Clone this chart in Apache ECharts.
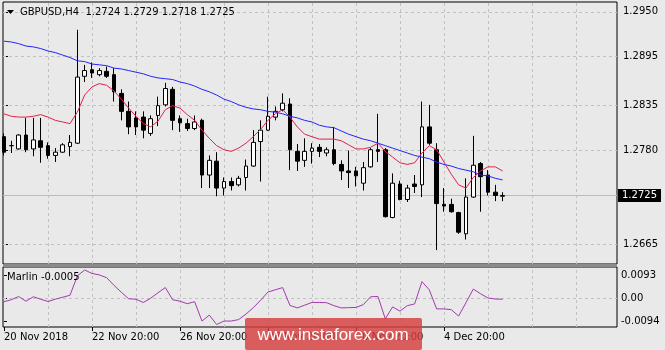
<!DOCTYPE html>
<html><head><meta charset="utf-8">
<script src="https://cdn.jsdelivr.net/npm/echarts@6/dist/echarts.min.js"></script>
<style>html,body{margin:0;padding:0;background:#e9e9e9}#c{width:665px;height:350px}</style>
</head><body><div id="c"></div>
<script>
const symbolName = 'GBPUSD,H4';
const indicatorName = 'Marlin';

const opens = [1.2797,1.2786,1.2782,1.2799,1.2782,1.2792,1.2786,1.2774,1.2778,1.2785,
1.2789,1.2871,1.2879,1.2873,1.2877,1.2873,1.2850,1.2828,1.2820,1.2821,
1.2801,1.2823,1.2836,1.2855,1.2819,1.2813,1.2807,1.2817,1.2750,1.2767,
1.2734,1.2742,1.2738,1.2747,1.2761,1.2791,1.2805,1.2821,1.2830,1.2837,
1.2779,1.2768,1.2779,1.2784,1.2777,1.2781,1.2763,1.2755,1.2755,1.2740,
1.2760,1.2781,1.2781,1.2698,1.2739,1.2720,1.2739,1.2738,1.2809,1.2781,
1.2714,1.2714,1.2704,1.2678,1.2723,1.2764,1.2750,1.2729,1.2724];
const closes = [1.2778,1.2786,1.2799,1.2781,1.2793,1.2784,1.2774,1.2778,1.2787,1.2790,
1.2870,1.2878,1.2875,1.2878,1.2871,1.2852,1.2828,1.2809,1.2809,1.2805,
1.2819,1.2835,1.2856,1.2817,1.2814,1.2807,1.2815,1.2750,1.2768,1.2734,
1.2742,1.2737,1.2746,1.2761,1.2790,1.2805,1.2822,1.2828,1.2838,1.2781,
1.2767,1.2779,1.2783,1.2779,1.2781,1.2764,1.2755,1.2753,1.2749,1.2759,
1.2781,1.2779,1.2699,1.2740,1.2720,1.2734,1.2736,1.2809,1.2789,1.2715,
1.2712,1.2705,1.2680,1.2723,1.2762,1.2748,1.2729,1.2725,1.2725];
const lows = [1.2774,1.2777,1.2781,1.2778,1.2773,1.2765,1.2770,1.2766,1.2777,1.2773,
1.2788,1.2864,1.2869,1.2871,1.2869,1.2840,1.2817,1.2800,1.2799,1.2795,
1.2798,1.2810,1.2834,1.2805,1.2803,1.2804,1.2805,1.2734,1.2734,1.2724,
1.2725,1.2731,1.2736,1.2731,1.2760,1.2742,1.2804,1.2817,1.2828,1.2756,
1.2755,1.2760,1.2764,1.2772,1.2773,1.2762,1.2744,1.2734,1.2736,1.2731,
1.2759,1.2766,1.2698,1.2697,1.2719,1.2717,1.2728,1.2723,1.2787,1.2658,
1.2705,1.2704,1.2678,1.2671,1.2722,1.2705,1.2725,1.2718,1.2718];
const highs = [1.2801,1.2792,1.2800,1.2820,1.2820,1.2820,1.2790,1.2783,1.2789,1.2799,
1.2928,1.2885,1.2888,1.2881,1.2883,1.2881,1.2855,1.2840,1.2828,1.2828,
1.2823,1.2846,1.2863,1.2858,1.2823,1.2819,1.2823,1.2819,1.2774,1.2778,
1.2747,1.2747,1.2749,1.2769,1.2805,1.2817,1.2846,1.2834,1.2850,1.2844,
1.2788,1.2795,1.2789,1.2788,1.2784,1.2809,1.2768,1.2780,1.2760,1.2766,
1.2783,1.2825,1.2783,1.2752,1.2743,1.2738,1.2750,1.2840,1.2836,1.2789,
1.2734,1.2721,1.2705,1.2746,1.2798,1.2766,1.2756,1.2738,1.2729];

const maSlow = [1.2914,1.2913,1.2911,1.2908,1.2907,1.2905,1.2902,1.2900,1.2897,1.2894,
1.2890,1.2889,1.2886,1.2885,1.2884,1.2881,1.2880,1.2878,1.2876,1.2874,
1.2871,1.2869,1.2868,1.2867,1.2864,1.2862,1.2859,1.2855,1.2852,1.2848,
1.2843,1.2840,1.2836,1.2833,1.2831,1.2830,1.2828,1.2827,1.2825,1.2822,
1.2820,1.2817,1.2815,1.2811,1.2809,1.2808,1.2804,1.2800,1.2797,1.2794,
1.2792,1.2789,1.2786,1.2783,1.2780,1.2777,1.2774,1.2772,1.2770,1.2766,
1.2763,1.2761,1.2758,1.2756,1.2754,1.2750,1.2749,1.2746,1.2744];
const maFast = [1.2825,1.2822,1.2821,1.2821,1.2822,1.2824,1.2821,1.2817,1.2815,1.2813,
1.2827,1.2848,1.2858,1.2862,1.2860,1.2853,1.2843,1.2832,1.2822,1.2813,
1.2809,1.2816,1.2830,1.2835,1.2832,1.2824,1.2817,1.2805,1.2795,1.2786,
1.2781,1.2779,1.2783,1.2789,1.2797,1.2806,1.2817,1.2825,1.2830,1.2821,
1.2809,1.2800,1.2797,1.2794,1.2794,1.2794,1.2792,1.2787,1.2782,1.2782,
1.2784,1.2789,1.2779,1.2772,1.2765,1.2763,1.2765,1.2777,1.2786,1.2781,
1.2766,1.2751,1.2738,1.2734,1.2747,1.2755,1.2760,1.2760,1.2755];
const marlin = [-0.0015,-0.0007,0.0006,-0.0013,0.0005,-0.0005,-0.0014,-0.0005,0.0003,0.0011,
0.0089,0.0113,0.0099,0.0093,0.0082,0.0051,0.0023,-0.0003,-0.0005,-0.0018,
-0.0001,0.0021,0.0042,-0.0007,-0.0013,-0.0023,-0.0015,-0.0093,-0.0069,-0.0107,
-0.0093,-0.0093,-0.0087,-0.0065,-0.0039,-0.0009,0.0024,0.0033,0.0042,-0.0030,
-0.0040,-0.0029,-0.0018,-0.0018,-0.0019,-0.0031,-0.0040,-0.0039,-0.0038,-0.0027,
0.0005,0.0006,-0.0084,-0.0036,-0.0053,-0.0031,-0.0024,0.0066,0.0033,-0.0044,
-0.0044,-0.0047,-0.0073,-0.0019,0.0036,0.0017,0.0000,-0.0004,-0.0005];

const priceTicks = [1.2950, 1.2895, 1.2835, 1.2780, 1.2665];
const priceGridValues = [1.2950, 1.2895, 1.2835, 1.2780, 1.2725, 1.2665];
const marlinTicks = [0.0093, 0, -0.0094];
const timeTickBars = [0, 12, 24, 36, 48, 60];
const timeTickLabels = ['20 Nov 2018', '22 Nov 20:00', '26 Nov 20:00', '28 Nov 20:00', '30 Nov 20:00', '4 Dec 20:00'];
const timeGridBars = [6, 12, 18, 24, 30, 36, 42, 48, 54, 60, 66, 72, 78];

const FONT = '"DejaVu Sans", Verdana, sans-serif';
const X_MIN = -0.136, X_MAX = 83.6;
const last = opens.length - 1;
const candles = opens.map((o, i) => [i, o, closes[i], lows[i], highs[i]]);
const titleText = symbolName + '  ' + [opens[last], highs[last], lows[last], closes[last]].map(v => v.toFixed(4)).join(' ');
const gridStyle = {color: '#c2c2c2', type: [3, 3], width: 1};

const chart = echarts.init(document.getElementById('c'), null, {renderer: 'canvas', width: 665, height: 350});
chart.setOption({
  animation: false,
  backgroundColor: '#e9e9e9',
  grid: [
    {left: 3, top: 2, width: 614, height: 262, show: true, borderColor: '#000', borderWidth: 1, backgroundColor: 'transparent'},
    {left: 3, top: 267, width: 614, height: 60, show: true, borderColor: '#000', borderWidth: 1, backgroundColor: 'transparent'}
  ],
  xAxis: [
    {type: 'value', gridIndex: 0, min: X_MIN, max: X_MAX, axisLine: {show: false, onZero: false}, axisTick: {show: false}, axisLabel: {show: false}, splitLine: {show: false}},
    {type: 'value', gridIndex: 1, min: X_MIN, max: X_MAX, axisLine: {show: false, onZero: false},
     axisTick: {show: true, customValues: timeTickBars, length: 4, lineStyle: {color: '#000'}},
     axisLabel: {show: true, customValues: timeTickBars, formatter: v => { const k = timeTickBars.indexOf(v); return k >= 0 ? timeTickLabels[k] : ''; },
       align: 'left', margin: 5, color: '#000', fontFamily: FONT, fontSize: 10},
     splitLine: {show: false}}
  ],
  yAxis: [
    {type: 'value', gridIndex: 0, position: 'right', min: 1.2641, max: 1.2962, axisLine: {show: false},
     axisTick: {show: true, customValues: priceTicks, length: 4, lineStyle: {color: '#000'}},
     axisLabel: {show: true, customValues: priceTicks, formatter: v => v.toFixed(4), margin: 6, color: '#000', fontFamily: FONT, fontSize: 10},
     splitLine: {show: false}},
    {type: 'value', gridIndex: 1, position: 'right', min: -0.0117, max: 0.0125, axisLine: {show: false},
     axisTick: {show: true, customValues: marlinTicks, length: 3, lineStyle: {color: '#000'}},
     axisLabel: {show: true, customValues: marlinTicks, formatter: v => v === 0 ? '0.00' : v.toFixed(4), margin: 4, color: '#000', fontFamily: FONT, fontSize: 10},
     splitLine: {show: false}}
  ],
  series: [
    {type: 'candlestick', xAxisIndex: 0, yAxisIndex: 0, data: candles, barWidth: 4, silent: true,
     itemStyle: {color: '#ffffff', color0: '#000000', borderColor: '#000000', borderColor0: '#000000', borderWidth: 1},
     markLine: {silent: true, z: 1, precision: 6, symbol: ['none', 'none'], animation: false, label: {show: false}, lineStyle: gridStyle,
       data: priceGridValues.map(v => ({yAxis: v})).concat(timeGridBars.map(v => ({xAxis: v}))).concat([
         {yAxis: closes[last], lineStyle: {type: 'solid', color: '#bcbcbc', width: 1},
          label: {show: true, position: 'end', distance: 1, formatter: closes[last].toFixed(4), color: '#fff', backgroundColor: '#000',
                  padding: [2, 4, 1, 4], fontFamily: FONT, fontSize: 10}}
       ])}},
    {type: 'line', xAxisIndex: 0, yAxisIndex: 0, data: maSlow.map((v, i) => [i, v]), showSymbol: false, silent: true,
     lineStyle: {color: '#2424ff', width: 1}, z: 3},
    {type: 'line', xAxisIndex: 0, yAxisIndex: 0, data: maFast.map((v, i) => [i, v]), showSymbol: false, silent: true,
     lineStyle: {color: '#e3204c', width: 1}, z: 3},
    {type: 'line', xAxisIndex: 1, yAxisIndex: 1, data: marlin.map((v, i) => [i, v]), showSymbol: false, silent: true,
     lineStyle: {color: '#a23aae', width: 1}, z: 3,
     markLine: {silent: true, z: 1, precision: 6, symbol: ['none', 'none'], animation: false, label: {show: false}, lineStyle: gridStyle,
       data: [{yAxis: 0}].concat(timeGridBars.map(v => ({xAxis: v})))}}
  ],
  graphic: [
    {type: 'rect', shape: {x: 3, y: 264, width: 614, height: 3}, style: {fill: '#8a8a8a'}, z: 20, silent: true},
    {type: 'polygon', shape: {points: [[7, 10], [14, 10], [10.5, 14]]}, style: {fill: '#000'}, z: 20, silent: true},
    {type: 'text', x: 20, y: 12, style: {text: titleText, font: '10px ' + FONT, fill: '#000', textVerticalAlign: 'middle', verticalAlign: 'middle'}, z: 20, silent: true},
    {type: 'text', x: 7, y: 277, style: {text: indicatorName + ' ' + marlin[last].toFixed(4), font: '10px ' + FONT, fill: '#000', textVerticalAlign: 'middle', verticalAlign: 'middle'}, z: 20, silent: true},
    {type: 'rect', shape: {x: 245, y: 318, width: 177, height: 32, r: 2}, style: {fill: 'rgba(214,62,62,0.82)'}, z: 50, silent: true},
    {type: 'text', x: 333, y: 335, style: {text: 'www.instaforex.com', font: '17px "Liberation Sans", Arial, sans-serif', fill: '#fff',
      textAlign: 'center', align: 'center', textVerticalAlign: 'middle', verticalAlign: 'middle'}, z: 51, silent: true}
  ]
});
</script>
</body></html>
